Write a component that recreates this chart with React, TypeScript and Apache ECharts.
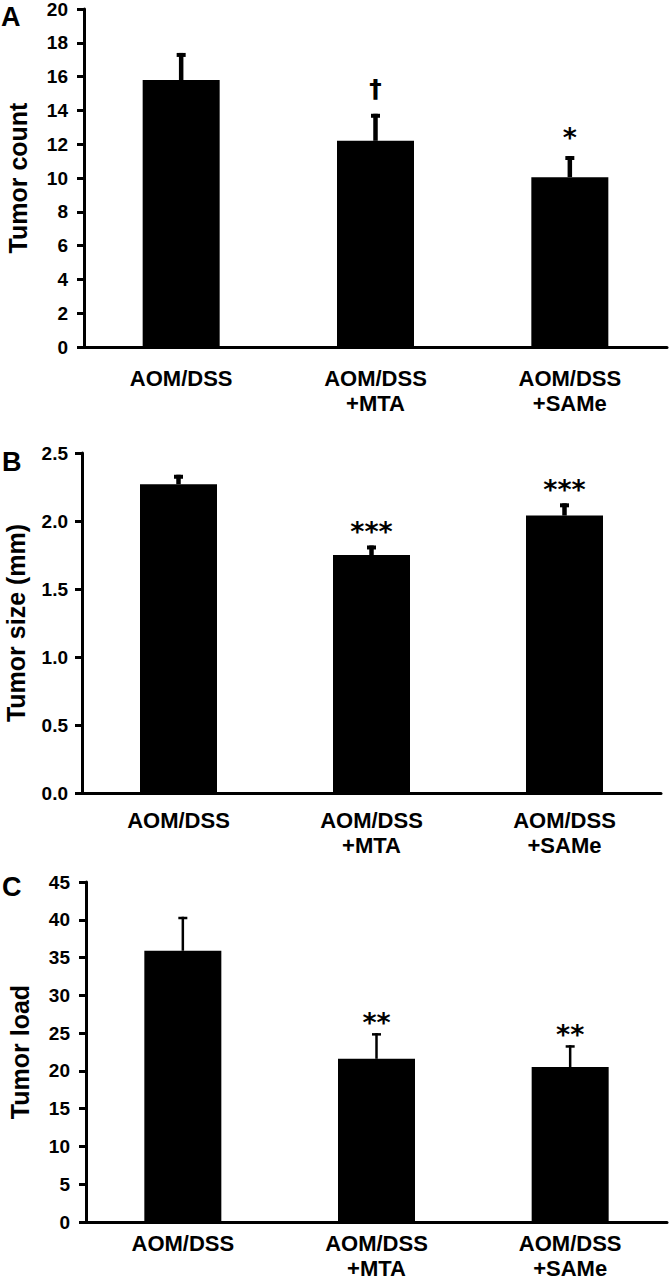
import React, { useEffect, useRef } from "react";
import * as echarts from "echarts";

const categories = ["AOM/DSS", "AOM/DSS\n+MTA", "AOM/DSS\n+SAMe"];

const countMean = [15.8, 12.2, 10.05];
const countSem = [1.6, 1.6, 1.25];
const countMarks = ["", "\u2020", "*"];
const countAxis = { min: 0, max: 20, interval: 2 };

const sizeMean = [2.27, 1.75, 2.04];
const sizeSem = [0.07, 0.07, 0.09];
const sizeMarks = ["", "***", "***"];
const sizeAxis = { min: 0, max: 2.5, interval: 0.5 };

const loadMean = [35.9, 21.6, 20.5];
const loadSem = [4.5, 3.4, 2.9];
const loadMarks = ["", "**", "**"];
const loadAxis = { min: 0, max: 45, interval: 5 };

const panelNames = ["Tumor count", "Tumor size (mm)", "Tumor load"];
const panelLetters = ["A", "B", "C"];

const FONT = "'Liberation Sans', Arial, sans-serif";
const MARK_FONT = "'DejaVu Sans', sans-serif";

export default function App() {
  const ref = useRef<HTMLDivElement>(null);
  useEffect(() => {
    if (!ref.current) return;
    const chart = echarts.init(ref.current, null, { renderer: "svg" });

    const panels = [
      { mean: countMean, sem: countSem, marks: countMarks, axis: countAxis, decimals: 0,
        grid: { left: 84, right: 2, top: 9, height: 338 }, labelMargin: 19, nameGap: 54, yLabelMargin: 16,
        stem: 4.5, cap: 4, capHalf: 4.5, gap: 5 },
      { mean: sizeMean, sem: sizeSem, marks: sizeMarks, axis: sizeAxis, decimals: 1,
        grid: { left: 82, right: 8, top: 453, height: 340 }, labelMargin: 15, nameGap: 54, yLabelMargin: 14,
        stem: 4.5, cap: 4, capHalf: 4.5, gap: 0 },
      { mean: loadMean, sem: loadSem, marks: loadMarks, axis: loadAxis, decimals: 0,
        grid: { left: 86, right: 2, top: 882, height: 340 }, labelMargin: 9, nameGap: 54, yLabelMargin: 16,
        stem: 2.5, cap: 2.5, capHalf: 4.5, gap: -3 },
    ];

    const grid: any[] = [];
    const xAxis: any[] = [];
    const yAxis: any[] = [];
    const series: any[] = [];

    panels.forEach((p, i) => {
      grid.push({ ...p.grid, containLabel: false, outerBoundsMode: "none" });
      xAxis.push({
        type: "category",
        gridIndex: i,
        data: categories,
        axisLine: { show: true, lineStyle: { color: "#000", width: 3 } },
        axisTick: { show: false },
        axisLabel: {
          color: "#000",
          fontFamily: FONT,
          fontWeight: "bold",
          fontSize: 22,
          lineHeight: 25,
          margin: p.labelMargin,
          interval: 0,
        },
      });
      yAxis.push({
        type: "value",
        gridIndex: i,
        min: p.axis.min,
        max: p.axis.max,
        interval: p.axis.interval,
        name: panelNames[i],
        nameLocation: "middle",
        nameRotate: 90,
        nameGap: p.nameGap,
        nameTextStyle: { color: "#000", fontFamily: FONT, fontWeight: "bold", fontSize: 25 },
        axisLine: { show: true, lineStyle: { color: "#000", width: 3 } },
        axisTick: { show: true, length: 7, inside: false, lineStyle: { color: "#000", width: 3 } },
        splitLine: { show: false },
        axisLabel: {
          color: "#000",
          fontFamily: FONT,
          fontWeight: "bold",
          fontSize: 19,
          margin: p.yLabelMargin,
          formatter: (v: number) => v.toFixed(p.decimals),
        },
      });
      series.push({
        type: "bar",
        xAxisIndex: i,
        yAxisIndex: i,
        data: p.mean,
        barWidth: 77,
        itemStyle: { color: "#000" },
      });
      series.push({
        type: "custom",
        xAxisIndex: i,
        yAxisIndex: i,
        data: p.mean.map((m, k) => [k, m, m + p.sem[k]]),
        encode: { x: 0, y: [1, 2] },
        z: 3,
        renderItem: (params: any, api: any) => {
          const idx = api.value(0);
          const base = api.coord([idx, api.value(1)]);
          const top = api.coord([idx, api.value(2)]);
          const mark = p.marks[params.dataIndex];
          const isDagger = mark === "\u2020";
          return {
            type: "group",
            children: [
              {
                type: "line",
                shape: { x1: base[0], y1: base[1], x2: top[0], y2: top[1] },
                style: { stroke: "#000", lineWidth: p.stem },
              },
              {
                type: "line",
                shape: { x1: top[0] - p.capHalf, y1: top[1] + p.cap / 2, x2: top[0] + p.capHalf, y2: top[1] + p.cap / 2 },
                style: { stroke: "#000", lineWidth: p.cap },
              },
              {
                type: "text",
                x: top[0],
                y: top[1] - (isDagger ? 13 : p.gap),
                style: {
                  text: mark,
                  fill: "#000",
                  font: isDagger ? `bold 25px ${MARK_FONT}` : `bold 27px ${MARK_FONT}`,
                  textAlign: "center",
                  textVerticalAlign: "bottom",
                },
              },
            ],
          };
        },
      });
    });

    const graphic = [
      { type: "text", left: 1, top: 3, style: { text: panelLetters[0], fill: "#000", font: `bold 27px ${FONT}` } },
      { type: "text", left: 2, top: 448, style: { text: panelLetters[1], fill: "#000", font: `bold 27px ${FONT}` } },
      { type: "text", left: 2, top: 873, style: { text: panelLetters[2], fill: "#000", font: `bold 27px ${FONT}` } },
    ];

    chart.setOption({
      animation: false,
      backgroundColor: "#fff",
      grid,
      xAxis,
      yAxis,
      series,
      graphic,
    });
    return () => chart.dispose();
  }, []);
  return (
    <div
      ref={ref}
      style={{ position: "fixed", left: 0, top: 0, width: 669, height: 1280, background: "#fff" }}
    />
  );
}
